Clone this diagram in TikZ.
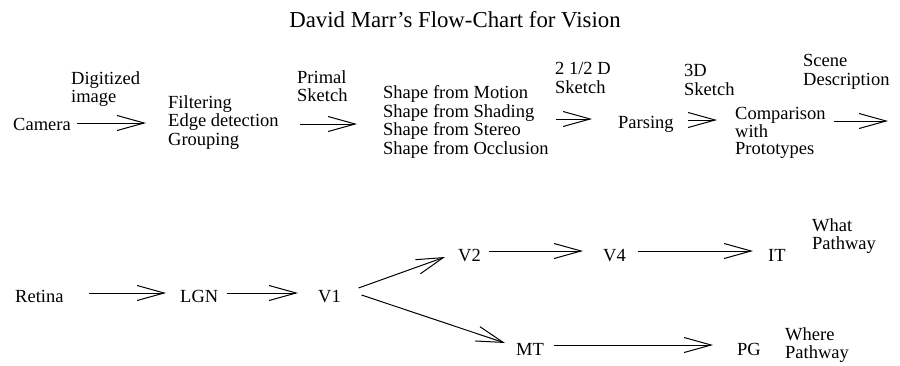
\documentclass[tikz,border=0pt]{standalone}
\usepackage{fontspec}
\setmainfont{Liberation Serif}
\usetikzlibrary{arrows.meta}
\usetikzlibrary{calc}

\tikzset{
  stage/.style={inner sep=0pt, anchor=base west, font=\fontsize{18.5}{18.5}\selectfont},
  block/.style={inner sep=0pt, anchor=north west, align=left, font=\fontsize{18.5}{18.5}\selectfont},
  flow/.style={line width=1pt, -{Straight Barb[length=27pt, width=15pt, line width=1pt]}},
}

\begin{document}
\begin{tikzpicture}[x=1pt, y=-1pt]
        \useasboundingbox (0,0) rectangle (900,365);
        % Title
        \node[inner sep=0pt, anchor=base, font=\fontsize{22.8}{22.8}\selectfont] (title) at (455,27) {David Marr's Flow-Chart for Vision};

        % Marr's chain
        \node[stage] (cam) at (13,130) {Camera};
        \node[block] (filt) at (168,95.4) {Filtering\\Edge detection\\Grouping};
        \node[block] (shape) at (383,85.4) {Shape from Motion\\Shape from Shading\\Shape from Stereo\\Shape from Occlusion};
        \node[stage] (pars) at (618,128) {Parsing};
        \node[block] (comp) at (735,107.4) {Comparison\\[-1pt]with\\[-1pt]Prototypes};
        \coordinate (desc) at (888,121);

        % labels on the arrows
        \node[block] (dig) at (71,71.4) {Digitized\\image};
        \node[block] (prim) at (297,70.4) {Primal\\Sketch};
        \node[block] (twohalf) at (555,62.4) {2 1/2 D\\Sketch};
        \node[block] (threed) at (684,64.4) {3D\\Sketch};
        \node[block] (scene) at (803,54.4) {Scene\\Description};

        \draw[flow] ($(cam.base east)+(6pt,7pt)$) -- ($(cam.base -| filt.west)+(-22pt,7pt)$);
        \draw[flow] ($(filt.east |- cam.base)+(21pt,6pt)$) -- ($(shape.west |- cam.base)+(-26pt,6pt)$);
        \draw[flow] ($(shape.east |- pars.base)+(7pt,9pt)$) -- ($(pars.base west)+(-26pt,9pt)$);
        \draw[flow] ($(pars.base east)+(14pt,8pt)$) -- ($(comp.west |- pars.base)+(-18pt,8pt)$);
        \draw[flow] ($(comp.east |- pars.base)+(8pt,7pt)$) -- (desc);

        % Visual pathways
        \node[stage] (ret) at (15,302) {Retina};
        \node[stage] (lgn) at (180,302) {LGN};
        \node[stage] (vone) at (318,302) {V1};
        \node[stage] (vtwo) at (458,261) {V2};
        \node[stage] (vfour) at (603,261) {V4};
        \node[stage] (it) at (768,261) {IT};
        \node[block] (what) at (812,218.4) {What\\Pathway};
        \node[stage] (mt) at (516,355) {MT};
        \node[stage] (pg) at (737,355) {PG};
        \node[block] (where) at (785,327.4) {Where\\Pathway};

        \draw[flow] ($(ret.base east)+(25pt,9pt)$) -- ($(lgn.base west)+(-14pt,9pt)$);
        \draw[flow] ($(lgn.base east)+(9pt,9pt)$) -- ($(vone.base west)+(-20pt,9pt)$);
        \draw[flow] ($(vone.base east)+(17.5pt,14pt)$) -- ($(vtwo.base west)+(-13pt,4pt)$);
        \draw[flow] ($(vone.base east)+(20.5pt,7pt)$) -- ($(mt.base west)+(-11pt,12pt)$);
        \draw[flow] ($(vtwo.base east)+(7.5pt,10pt)$) -- ($(vfour.base west)+(-20pt,10pt)$);
        \draw[flow] ($(vfour.base east)+(11.5pt,10pt)$) -- ($(it.base west)+(-15pt,10pt)$);
        \draw[flow] ($(mt.base east)+(10pt,10pt)$) -- ($(pg.base west)+(-24pt,10pt)$);
\end{tikzpicture}
\end{document}
